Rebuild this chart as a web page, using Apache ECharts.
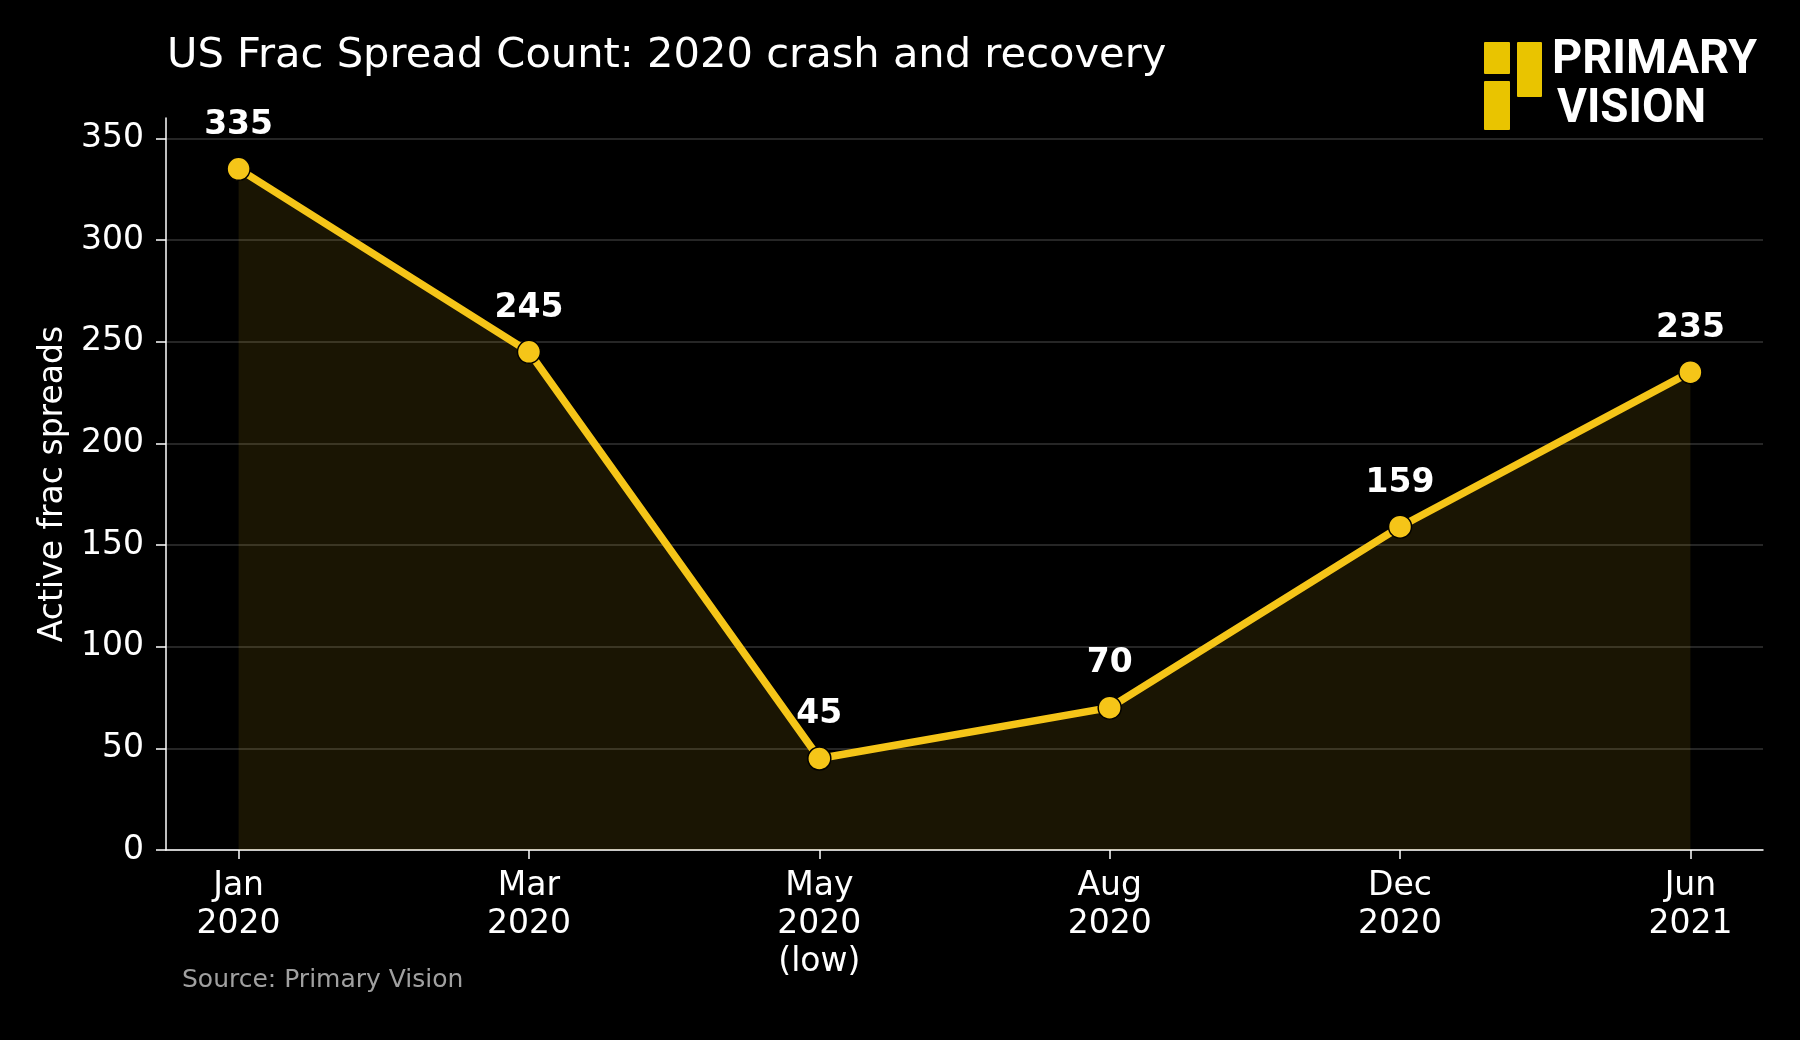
<!DOCTYPE html>
<html>

<head>
    <meta charset="utf-8" />
    <script src="https://cdn.jsdelivr.net/npm/echarts@6/dist/echarts.min.js"></script>
    <style>
        html, body { margin: 0; padding: 0; background: #000; }
        #main { width: 1800px; height: 1040px; }
    </style>
</head>

<body>
    <div id="main"></div>
    <script>
        // data
        var months = ['Jan\n2020', 'Mar\n2020', 'May\n2020\n(low)', 'Aug\n2020', 'Dec\n2020', 'Jun\n2021'];
        var spreads = [335, 245, 45, 70, 159, 235];
        var yTicks = [0, 50, 100, 150, 200, 250, 300, 350];

        var FONT = 'DejaVu Sans';
        var YELLOW = '#f5c518';

        // logo text: squeeze to the width seen in the reference
        function fitScale(text, font, width) {
            var ctx = document.createElement('canvas').getContext('2d');
            ctx.font = font;
            return width / ctx.measureText(text).width;
        }
        var logoFont = 'bold 48px Roboto';
        var sx1 = fitScale('PRIMARY', logoFont, 205);
        var sx2 = fitScale('VISION', logoFont, 149);

        var points = spreads.map(function (v, i) { return [i, v]; });

        var myChart = echarts.init(document.getElementById('main'));

        var option = {
            backgroundColor: '#000',
            animation: false,
            title: {
                text: 'US Frac Spread Count: 2020 crash and recovery',
                left: 162,
                top: 30,
                textStyle: {
                    color: '#fff',
                    fontFamily: FONT,
                    fontWeight: 'normal',
                    fontSize: 41.6
                }
            },
            grid: {
                left: 166,
                right: 37,
                top: 118,
                bottom: 190
            },
            xAxis: {
                type: 'value',
                min: -0.25,
                max: 5.25,
                axisLine: { onZero: false, lineStyle: { color: '#fff', width: 1.5 } },
                axisTick: {
                    show: true,
                    customValues: [0, 1, 2, 3, 4, 5],
                    length: 9,
                    lineStyle: { color: '#fff', width: 1.5 }
                },
                axisLabel: {
                    customValues: [0, 1, 2, 3, 4, 5],
                    formatter: function (v) { return months[Math.round(v)]; },
                    color: '#fff',
                    fontFamily: FONT,
                    fontSize: 33,
                    lineHeight: 38,
                    margin: 17
                },
                splitLine: { show: false }
            },
            yAxis: {
                type: 'value',
                min: 0,
                max: 360,
                interval: 50,
                name: 'Active frac spreads',
                nameLocation: 'middle',
                nameGap: 95,
                nameTextStyle: {
                    color: '#fff',
                    fontFamily: FONT,
                    fontSize: 33
                },
                axisLine: { show: true, onZero: false, lineStyle: { color: '#fff', width: 1.5 } },
                axisTick: {
                    show: true,
                    customValues: yTicks,
                    length: 10,
                    lineStyle: { color: '#fff', width: 1.5 }
                },
                axisLabel: {
                    customValues: yTicks,
                    color: '#fff',
                    fontFamily: FONT,
                    fontSize: 33,
                    margin: 22
                },
                splitLine: {
                    show: true,
                    lineStyle: { color: 'rgba(255,255,255,0.2)', width: 1.5 }
                }
            },
            graphic: [
                { type: 'rect', shape: { x: 1484, y: 42, width: 26, height: 32, r: 1 }, style: { fill: '#e9c400' } },
                { type: 'rect', shape: { x: 1484, y: 81, width: 26, height: 49, r: 1 }, style: { fill: '#e9c400' } },
                { type: 'rect', shape: { x: 1517, y: 42, width: 25, height: 55, r: 1 }, style: { fill: '#e9c400' } },
                {
                    type: 'text', x: 1552, y: 61, scaleX: sx1,
                    style: { text: 'PRIMARY', fill: '#fff', font: logoFont, textVerticalAlign: 'middle' }
                },
                {
                    type: 'text', x: 1557, y: 110, scaleX: sx2,
                    style: { text: 'VISION', fill: '#fff', font: logoFont, textVerticalAlign: 'middle' }
                },
                {
                    type: 'text', x: 182, y: 980,
                    style: {
                        text: 'Source: Primary Vision', fill: '#a0a0a0',
                        font: '25px "DejaVu Sans"', textVerticalAlign: 'middle'
                    }
                }
            ],
            series: [
                {
                    name: 'Active frac spreads',
                    type: 'line',
                    data: points,
                    symbol: 'circle',
                    symbolSize: 23,
                    lineStyle: { color: YELLOW, width: 7.5 },
                    itemStyle: { color: YELLOW, borderColor: '#000', borderWidth: 1.5 },
                    areaStyle: { color: 'rgba(245,197,24,0.15)' },
                    label: {
                        show: true,
                        position: 'top',
                        distance: 15,
                        formatter: function (p) { return p.value[1]; },
                        color: '#fff',
                        fontFamily: FONT,
                        fontWeight: 'bold',
                        fontSize: 33
                    },
                    emphasis: { disabled: true }
                }
            ]
        };

        myChart.setOption(option);
    </script>
</body>

</html>
